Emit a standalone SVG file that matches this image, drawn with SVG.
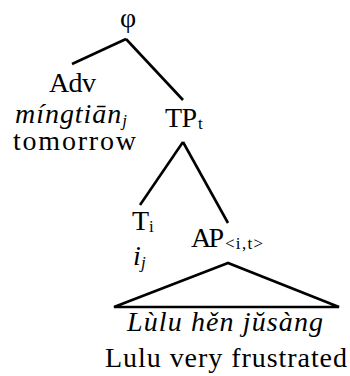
<svg xmlns="http://www.w3.org/2000/svg" width="350" height="376" viewBox="0 0 350 376">
<style>
text{font-family:"Liberation Serif","Times New Roman",serif;fill:#000;font-size:28px}
.it{font-style:italic}
.sub{font-size:17px}
.edge{stroke:#000;stroke-width:2.6;fill:none;stroke-linecap:butt;stroke-linejoin:miter}
</style>
<rect width="350" height="376" fill="#fff"/>
<g id="connectors">
<line class="edge" x1="126" y1="39" x2="72" y2="64"/>
<line class="edge" x1="126" y1="39" x2="183" y2="100"/>
<line class="edge" x1="183" y1="142" x2="140" y2="205"/>
<line class="edge" x1="183" y1="142" x2="228" y2="223"/>
<polygon class="edge" points="228,263 114,307 339,307"/>
</g>
<g id="node-phi"><text x="128" y="27" text-anchor="middle">φ</text></g>
<g id="node-adv">
<text x="49" y="92" textLength="47">Adv</text>
<text class="it" x="15" y="123" textLength="112">míngtiān<tspan class="sub" dy="3">j</tspan></text>
<text x="13" y="150" textLength="123">tomorrow</text>
</g>
<g id="node-tp"><text x="165" y="127" textLength="32">TP</text><text class="sub" x="198" y="129">t</text></g>
<g id="node-t">
<text x="132" y="230">T</text><text class="sub" x="149" y="232">i</text>
<text class="it" x="133" y="265">i</text><text class="it sub" x="141" y="268">j</text>
</g>
<g id="node-ap"><text x="191" y="247" textLength="33">AP</text><text class="sub" x="225" y="249" textLength="38">&lt;i,t&gt;</text></g>
<g id="node-leaf">
<text class="it" x="127" y="331" textLength="196">Lùlu hěn jŭsàng</text>
<text x="105" y="367" textLength="242">Lulu very frustrated</text>
</g>
</svg>
